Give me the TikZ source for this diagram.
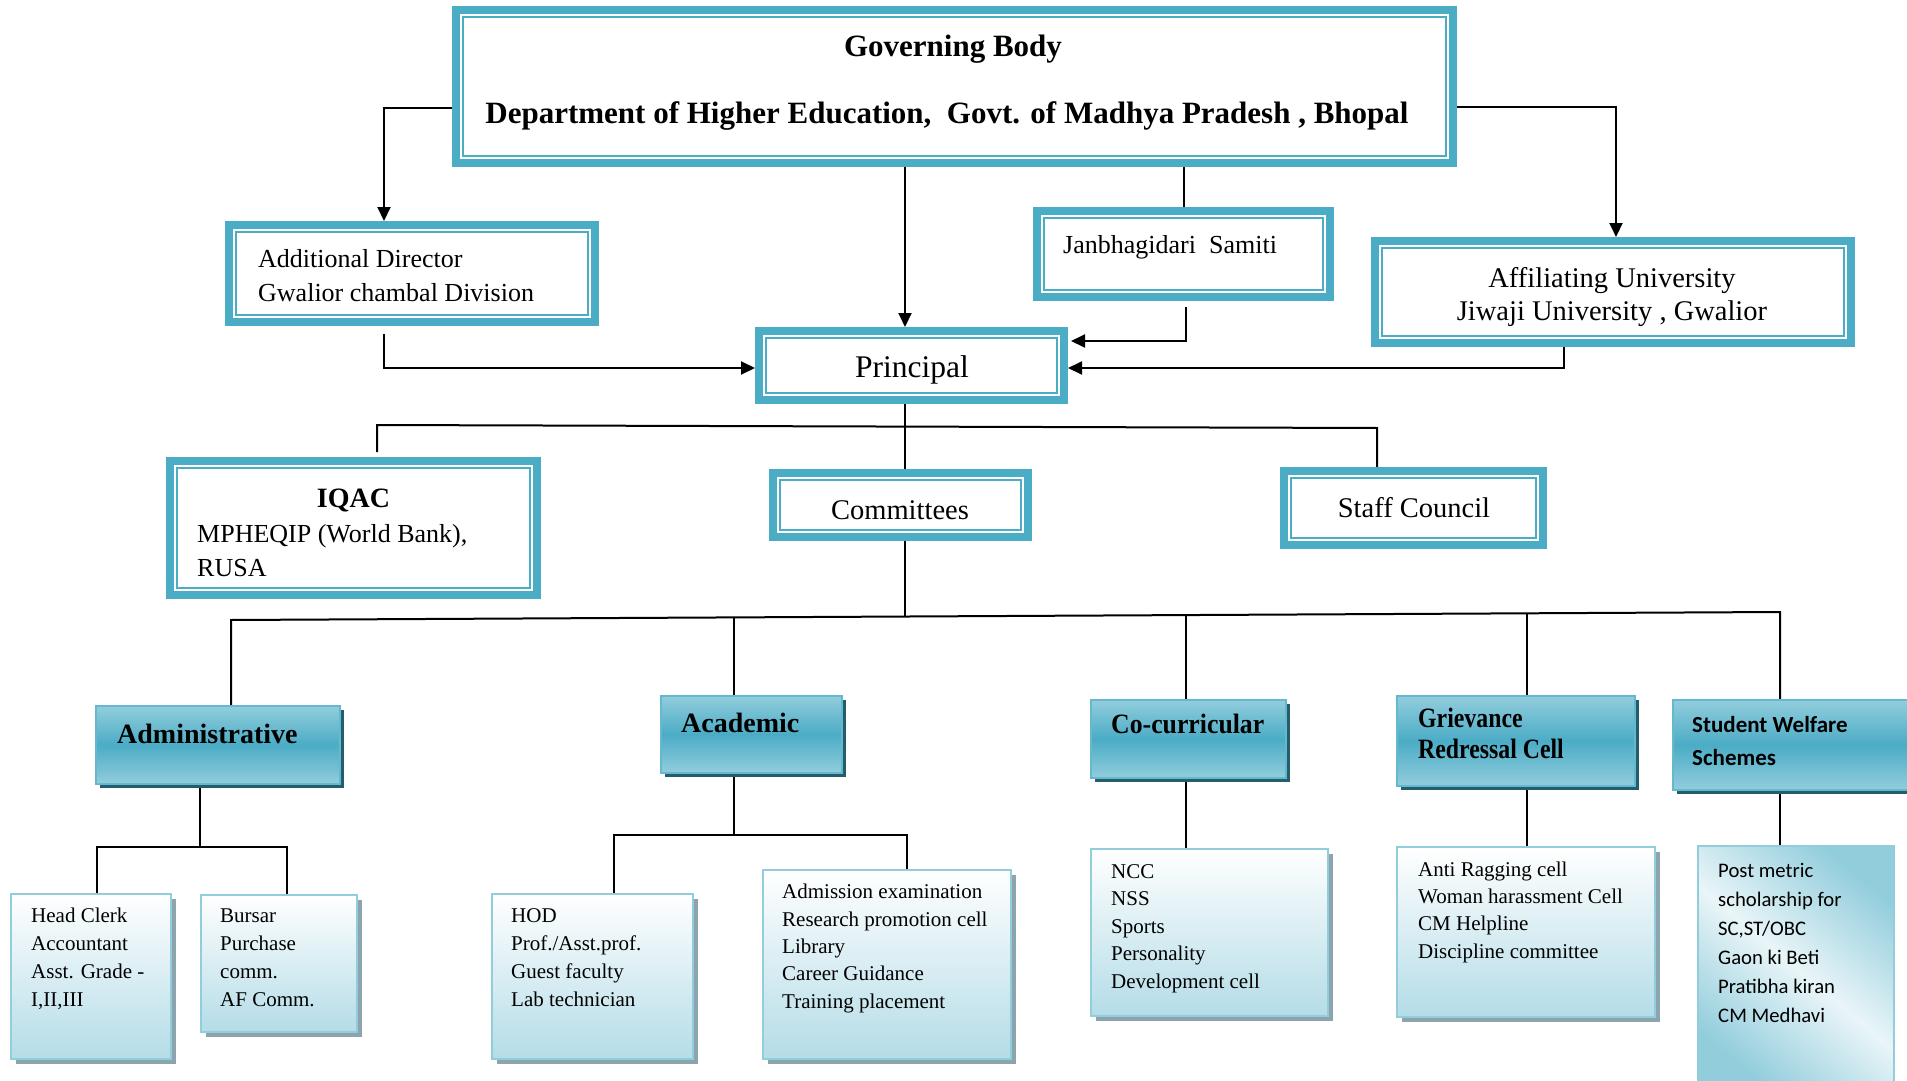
\documentclass[tikz,border=0pt]{standalone}
\usepackage{fontspec}
\setmainfont{Liberation Serif}
\newfontfamily\calib{Carlito}
\usetikzlibrary{arrows.meta,shadows,backgrounds}
\definecolor{tealA}{RGB}{75,172,198}
\definecolor{tealL}{RGB}{146,205,220}
\definecolor{tealD}{RGB}{36,94,108}
\definecolor{paleB}{RGB}{180,220,231}
\definecolor{shadG}{RGB}{140,164,173}
\newcommand{\narrow}[2]{\scalebox{#1}[1]{#2}}
\begin{document}
\begin{tikzpicture}[x=1pt,y=-1pt,
  dbox/.style={draw=tealA, line width=8pt, fill=white, inner sep=0pt},
  inl/.style={draw=tealA, line width=2.2pt},
  hbox/.style={draw=tealA!85!white, line width=2pt, top color=tealL, bottom color=tealL, middle color=tealA, inner sep=0pt,
     drop shadow={shadow xshift=4pt, shadow yshift=-4pt, fill=tealD, opacity=1}},
  lbox/.style={draw=tealL, line width=2.5pt, top color=white, bottom color=paleB, inner sep=0pt,
     drop shadow={shadow xshift=5pt, shadow yshift=-5pt, fill=shadG, opacity=1}},
  pbox/.style={draw=tealL, line width=2.5pt, left color=tealL, right color=tealL, middle color=white!80!tealL, shading angle=-40, inner sep=0pt},
  ttl/.style={inner sep=0pt, anchor=base, font={\bfseries\fontsize{31}{37}\selectfont}},
  mid/.style={inner sep=0pt, anchor=base, align=center, font={\fontsize{28.5}{33}\selectfont}},
  lft/.style={inner sep=0pt, anchor=base west, align=left, font={\fontsize{26}{34}\selectfont}},
  hdr/.style={inner sep=0pt, anchor=base west, align=left, font={\bfseries\fontsize{28}{31}\selectfont}},
  small/.style={inner sep=0pt, anchor=base west, align=left, font={\fontsize{21}{27.5}\selectfont}},
  conn/.style={line width=2pt, draw=black},
  arr/.style={conn, -{Triangle[length=14pt,width=13pt]}},
]
\useasboundingbox (0,0) rectangle (1907,1081);
\clip (0,0) rectangle (1907,1081);

% ---------- double-bordered boxes ----------
\node[dbox, minimum width=997pt, minimum height=153pt] (gov)   at (954.5,86.5) {};
\node[dbox, minimum width=366pt, minimum height=97pt]  (addl)  at (412,273.5) {};
\node[dbox, minimum width=293pt, minimum height=86pt]  (jan)   at (1183.5,254) {};
\node[dbox, minimum width=476pt, minimum height=102pt] (aff)   at (1613,292) {};
\node[dbox, minimum width=305pt, minimum height=69pt]  (prin)  at (911.5,365.5) {};
\node[dbox, minimum width=367pt, minimum height=134pt] (iqac)  at (353.5,528) {};
\node[dbox, minimum width=255pt, minimum height=64pt]  (comm)  at (900.5,505) {};
\node[dbox, minimum width=259pt, minimum height=74pt]  (staff) at (1413.5,508) {};
\foreach \n in {gov,addl,jan,aff,prin,iqac,comm,staff}
  \draw[inl] ([xshift=11pt,yshift=-11pt]\n.north west) rectangle ([xshift=-11pt,yshift=11pt]\n.south east);

% (multi-line text nodes are placed by the baseline of their last line)
\node[ttl] (govt1) at (953,57) {Governing Body};
\node[ttl] (govt2) at (947,123) {Department of Higher Education,~ Govt. of Madhya Pradesh , Bhopal};
\node[lft] (addlt) at (258,301) {Additional Director\\Gwalior chambal Division};
\node[lft] (jant)  at (1063,253) {Janbhagidari~ Samiti};
\node[mid] (afft)  at (1612,320) {Affiliating University\\Jiwaji University , Gwalior};
\node[mid, font={\fontsize{31.5}{36}\selectfont}] (print) at (912,377) {Principal};
\node[mid, font={\bfseries\fontsize{28}{33}\selectfont}] (iqact) at (353.5,507) {IQAC};
\node[lft] (iqacs) at (197,576) {MPHEQIP (World Bank),\\RUSA};
\node[mid] (commt)  at (900,519) {Committees};
\node[mid] (stafft) at (1414,517) {Staff Council};

% ---------- heading boxes ----------
\node[hbox, minimum width=244pt, minimum height=78pt] (admin) at (218,745) {};
\node[hbox, minimum width=181pt, minimum height=77pt] (acad)  at (751.5,734.5) {};
\node[hbox, minimum width=195pt, minimum height=78pt] (cocur) at (1188.5,739) {};
\node[hbox, minimum width=238pt, minimum height=90pt] (griev) at (1516,741) {};
\node[hbox, minimum width=241pt, minimum height=90pt] (welf)  at (1793.5,745) {};

\node[hdr] (admint) at (117,743) {Administrative};
\node[hdr] (acadt)  at (681,732) {Academic};
\node[hdr] (cocurt) at (1111,733) {\narrow{0.92}{Co-curricular}};
\node[hdr] (grievt) at (1418,758) {\narrow{0.85}{Grievance}\\\narrow{0.85}{Redressal Cell}};
\node[hdr, font={\calib\bfseries\fontsize{23}{33}\selectfont}] (welft) at (1692,765) {Student Welfare\\Schemes};

% ---------- lower boxes ----------
\node[lbox, minimum width=160pt, minimum height=165pt] (hc)   at (91,976.5) {};
\node[lbox, minimum width=156pt, minimum height=137pt] (bur)  at (279,963.5) {};
\node[lbox, minimum width=201pt, minimum height=165pt] (hod)  at (592.5,976.5) {};
\node[lbox, minimum width=248pt, minimum height=189pt] (adm)  at (887,964.5) {};
\node[lbox, minimum width=237pt, minimum height=167pt] (ncc)  at (1209.5,932.5) {};
\node[lbox, minimum width=258pt, minimum height=170pt] (anti) at (1526,932) {};
\node[pbox, minimum width=196pt, minimum height=244pt] (post) at (1796,968) {};

\node[small, font={\fontsize{21}{27.7}\selectfont}] (hct)  at (31,1006) {Head Clerk\\Accountant\\Asst. Grade -\\I,II,III};
\node[small, font={\fontsize{21}{27.7}\selectfont}] (burt) at (220,1006) {Bursar\\Purchase\\comm.\\AF Comm.};
\node[small, font={\fontsize{21}{27.7}\selectfont}] (hodt) at (511,1006) {HOD\\Prof./Asst.prof.\\Guest faculty\\Lab technician};
\node[small, font={\fontsize{21}{27.3}\selectfont}] (admt) at (782,1008) {Admission examination\\Research promotion cell\\Library\\Career Guidance\\Training placement};
\node[small] (ncct)  at (1111,988) {NCC\\NSS\\Sports\\Personality\\Development cell};
\node[small, font={\fontsize{21}{27.3}\selectfont}] (antit) at (1418,958) {Anti Ragging cell\\Woman harassment Cell\\CM Helpline\\Discipline committee};
\node[small, font={\calib\fontsize{20.7}{29}\selectfont}] (postt) at (1718,1022) {Post metric\\scholarship for\\SC,ST/OBC\\Gaon ki Beti\\Pratibha kiran\\CM Medhavi};

% ---------- connectors ----------
\coordinate (janout)  at (1186,307);
\coordinate (addlout) at (384,334);
\coordinate (iqactop) at (377,452);
\begin{pgfonlayer}{background}
\draw[arr] (gov.west |- 0,108) -| (384,0 |- addl.north);
\draw[arr] (gov.east |- 0,107) -| (1616,0 |- aff.north);
\draw[arr] (905,0 |- gov.south) -- (905,0 |- prin.north);
\draw[conn] (1184,0 |- gov.south) -- (1184,0 |- jan.north);
\draw[arr] (janout) |- ([xshift=3pt]prin.east |- 0,341);
\draw[arr] (addlout) |- (prin.west |- 0,368);
\draw[arr] (1564,0 |- aff.south) |- (prin.east |- 0,368);
% principal level
\draw[conn] (905,0 |- prin.south) -- (905,0 |- comm.north);
\draw[conn] (iqactop) -- (377,425) -- (1377,428) -- (1377,0 |- staff.north);
% committees level
\draw[conn] (905,0 |- comm.south) -- (905,616.5);
\draw[conn] (231,0 |- admin.north) -- (231,620) -- (1780,612) -- (1780,0 |- welf.north);
\draw[conn] (734,617.4) -- (734,0 |- acad.north);
\draw[conn] (1186,615.1) -- (1186,0 |- cocur.north);
\draw[conn] (1527,613.3) -- (1527,0 |- griev.north);
% lower level
\draw[conn] (200,0 |- admin.south) -- (200,847);
\draw[conn] (97,0 |- hc.north) -- (97,847) -- (287,847) -- (287,0 |- bur.north);
\draw[conn] (734,0 |- acad.south) -- (734,835);
\draw[conn] (614,0 |- hod.north) -- (614,835) -- (907,835) -- (907,0 |- adm.north);
\draw[conn] (1186,0 |- cocur.south) -- (1186,0 |- ncc.north);
\draw[conn] (1527,0 |- griev.south) -- (1527,0 |- anti.north);
\draw[conn] (1780,0 |- welf.south) -- (1780,0 |- post.north);
\end{pgfonlayer}
\end{tikzpicture}
\end{document}
